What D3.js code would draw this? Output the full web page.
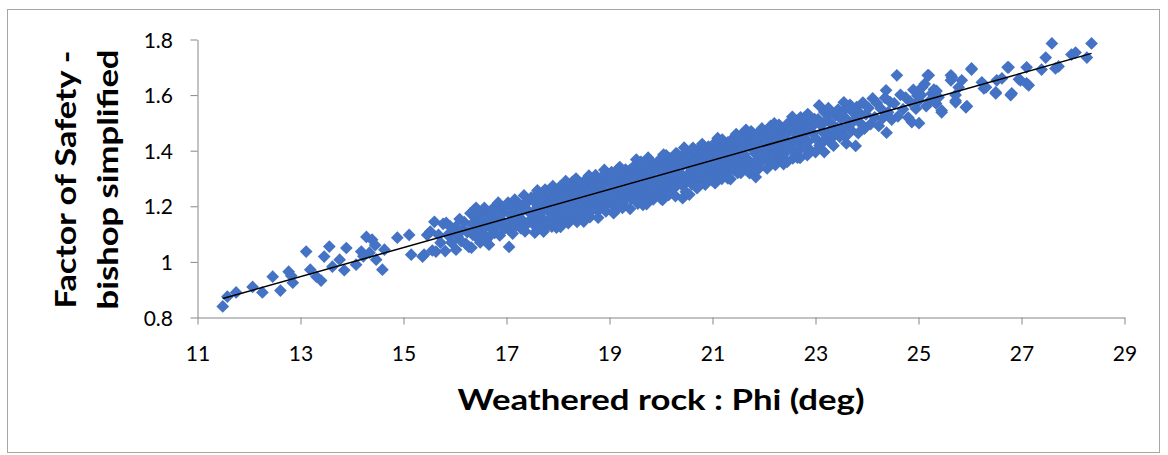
<!DOCTYPE html>
<html>
<head>
<meta charset="utf-8">
<script src="https://cdn.jsdelivr.net/npm/d3@7"></script>
<style>
  html, body { margin: 0; padding: 0; background: #ffffff; }
  svg { display: block; font-family: Lato, "Open Sans", "Liberation Sans", sans-serif; }
</style>
</head>
<body>
<svg id="chart" width="1168" height="455"></svg>
<script>
// Weathered rock friction angle (deg) vs. Bishop simplified factor of safety

// lower tail, 11.5 - 15 deg
const phiLeft = [11.49,11.58,11.75,12.07,12.26,12.46,12.61,12.77,12.82,12.85,13.11,13.19,13.31,13.40,13.46,13.56,13.62,13.76,13.85,13.89,14.08,14.18,14.22,14.28,14.34,14.39,14.45,14.47,14.59,14.63,14.88];
const fosLeft = [0.840,0.875,0.890,0.910,0.890,0.947,0.897,0.965,0.950,0.925,1.037,0.972,0.947,0.933,1.019,1.055,0.983,1.008,0.970,1.050,0.990,1.037,1.020,1.090,1.033,1.080,1.060,1.008,0.972,1.044,1.087];

// 15 - 17 deg, scattered
const phiMid = [15.11,15.15,15.37,15.40,15.46,15.60,15.63,15.83,16.02,16.08,16.27,16.32,16.37,16.41,16.41,16.61,16.66,17.05];
const fosMid = [1.097,1.026,1.019,1.026,1.097,1.144,1.037,1.140,1.044,1.105,1.054,1.051,1.187,1.126,1.194,1.080,1.062,1.054];

// dense core of the cloud, 15.5 - 25 deg
const phiCore = [
  15.52,15.56,15.68,15.72,15.77,15.81,15.86,15.90,15.93,15.97,
  16.01,16.05,16.09,16.12,16.15,16.18,16.21,16.24,16.30,16.33,16.35,16.39,16.43,16.45,16.47,16.49,
  16.52,16.54,16.57,16.59,16.62,16.64,16.67,16.69,16.72,16.74,16.77,16.79,16.82,16.84,16.87,16.89,16.92,16.94,16.96,16.98,
  17.01,17.03,17.06,17.08,17.10,17.12,17.14,17.16,17.18,17.20,17.22,17.24,17.26,17.28,17.30,17.32,17.34,17.36,17.38,17.40,17.42,17.44,17.46,17.48,
  17.51,17.53,17.55,17.57,17.59,17.61,17.63,17.65,17.67,17.69,17.71,17.73,17.75,17.77,17.79,17.81,17.83,17.85,17.87,17.89,17.91,17.93,17.95,17.96,17.98,17.99,
  18.01,18.03,18.04,18.06,18.08,18.10,18.12,18.14,18.15,18.17,18.19,18.21,18.22,18.24,18.26,18.28,18.30,18.31,18.33,18.35,18.37,18.39,18.41,18.43,18.44,18.46,18.48,18.49,
  18.51,18.53,18.55,18.56,18.58,18.60,18.62,18.64,18.65,18.67,18.69,18.71,18.73,18.74,18.76,18.78,18.80,18.82,18.83,18.85,18.87,18.89,18.91,18.92,18.94,18.96,18.98,18.99,
  19.01,19.03,19.04,19.06,19.08,19.10,19.12,19.13,19.15,19.17,19.19,19.21,19.22,19.24,19.26,19.28,19.30,19.31,19.33,19.35,19.37,19.39,19.40,19.42,19.44,19.46,19.48,19.49,
  19.51,19.53,19.54,19.56,19.58,19.60,19.62,19.63,19.65,19.67,19.69,19.71,19.72,19.74,19.76,19.78,19.80,19.81,19.83,19.85,19.87,19.89,19.90,19.92,19.94,19.96,19.98,19.99,
  20.01,20.03,20.04,20.06,20.08,20.10,20.12,20.13,20.15,20.17,20.19,20.21,20.22,20.24,20.26,20.28,20.30,20.31,20.33,20.35,20.37,20.39,20.40,20.42,20.44,20.46,20.48,20.49,
  20.51,20.53,20.54,20.56,20.58,20.60,20.62,20.63,20.65,20.67,20.69,20.71,20.72,20.74,20.76,20.78,20.80,20.81,20.83,20.85,20.87,20.89,20.90,20.92,20.94,20.96,20.98,20.99,
  21.01,21.03,21.04,21.06,21.08,21.10,21.12,21.13,21.15,21.17,21.19,21.21,21.22,21.24,21.26,21.28,21.30,21.31,21.33,21.35,21.37,21.39,21.40,21.42,21.44,21.46,21.48,21.49,
  21.51,21.53,21.55,21.57,21.59,21.61,21.63,21.65,21.67,21.69,21.71,21.73,21.75,21.77,21.79,21.81,21.83,21.85,21.87,21.89,21.91,21.93,21.95,21.96,21.98,21.99,
  22.01,22.03,22.05,22.07,22.09,22.11,22.13,22.15,22.17,22.19,22.21,22.23,22.25,22.27,22.29,22.31,22.33,22.35,22.37,22.39,22.41,22.43,22.45,22.48,
  22.51,22.53,22.55,22.58,22.60,22.62,22.64,22.66,22.68,22.71,22.73,22.75,22.77,22.79,22.82,22.84,22.86,22.88,22.91,22.93,22.95,22.98,
  23.02,23.05,23.08,23.11,23.14,23.17,23.19,23.22,23.25,23.28,23.31,23.33,23.36,23.39,23.42,23.44,23.47,23.49,
  23.52,23.55,23.58,23.61,23.64,23.67,23.70,23.73,23.76,23.80,23.83,23.86,23.89,23.92,23.95,23.98,
  24.03,24.07,24.11,24.15,24.19,24.23,24.27,24.31,24.35,24.41,24.45,24.48,
  24.53,24.60,24.65,24.70,24.75,24.80,24.84,24.90,24.95,24.98
];
const fosCore = [
  1.109,1.041,1.097,1.069,1.137,1.039,1.097,1.129,1.070,1.117,
  1.125,1.092,1.154,1.075,1.117,1.143,1.065,1.107,1.175,1.136,1.097,1.159,1.087,1.128,1.179,1.070,
  1.151,1.102,1.194,1.125,1.176,1.087,1.144,1.170,1.117,1.193,1.104,1.160,1.132,1.213,1.095,1.186,1.147,1.178,1.119,1.200,
  1.137,1.213,1.114,1.170,1.196,1.102,1.153,1.224,1.185,1.132,1.213,1.154,1.175,1.121,1.202,1.148,1.239,1.110,1.191,1.137,1.218,1.179,1.150,1.231,
  1.178,1.134,1.215,1.161,1.242,1.198,1.129,1.175,1.231,1.157,1.213,1.149,1.260,1.196,1.232,1.133,1.179,1.250,1.216,1.162,1.229,1.195,1.151,1.251,1.212,1.178,
  1.239,1.165,1.271,1.197,1.223,1.154,1.255,1.186,1.236,1.167,1.268,1.214,1.150,1.251,1.187,1.288,1.229,1.169,1.270,1.206,1.242,1.188,1.285,1.221,1.166,1.257,1.208,1.269,
  1.191,1.247,1.298,1.218,1.274,1.180,1.256,1.212,1.293,1.239,1.195,1.271,1.312,1.212,1.253,1.184,1.290,1.236,1.272,1.213,1.309,1.255,1.201,1.286,1.232,1.303,1.249,1.215,
  1.281,1.232,1.323,1.204,1.270,1.306,1.247,1.218,1.294,1.335,1.261,1.232,1.317,1.283,1.209,1.250,1.311,1.332,1.273,1.234,1.295,1.251,1.331,1.227,1.313,1.269,1.345,1.251,
  1.298,1.239,1.334,1.270,1.356,1.232,1.318,1.259,1.300,1.346,1.287,1.233,1.333,1.259,1.315,1.276,1.362,1.253,1.324,1.300,1.346,1.277,1.237,1.338,1.294,1.365,1.266,1.322,
  1.284,1.360,1.255,1.326,1.302,1.383,1.274,1.350,1.316,1.372,1.258,1.299,1.344,1.365,1.286,1.332,1.273,1.389,1.320,1.356,1.297,1.378,1.313,1.274,1.350,1.391,1.307,1.373,
  1.295,1.346,1.391,1.322,1.373,1.279,1.410,1.336,1.307,1.368,1.394,1.295,1.350,1.326,1.387,1.413,1.319,1.365,1.296,1.397,1.343,1.384,1.314,1.415,1.356,1.332,1.378,1.294,
  1.396,1.347,1.427,1.318,1.379,1.360,1.416,1.307,1.393,1.339,1.440,1.371,1.331,1.412,1.383,1.319,1.430,1.356,1.397,1.343,1.424,1.370,1.445,1.331,1.412,1.358,1.394,1.320,
  1.433,1.374,1.455,1.346,1.407,1.388,1.429,1.335,1.451,1.367,1.418,1.359,1.470,1.406,1.442,1.348,1.389,1.455,1.431,1.372,1.468,1.404,1.360,1.440,1.386,1.422,
  1.373,1.469,1.430,1.396,1.452,1.363,1.489,1.415,1.446,1.387,1.473,1.409,1.436,1.367,1.493,1.399,1.460,1.431,1.477,1.388,1.454,1.415,1.496,1.428,
  1.475,1.406,1.507,1.438,1.464,1.390,1.496,1.427,1.458,1.520,1.411,1.482,1.443,1.509,1.406,1.472,1.433,1.499,1.400,1.486,1.462,1.514,
  1.441,1.513,1.419,1.491,1.467,1.539,1.440,1.511,1.463,1.535,1.426,1.492,1.454,1.526,1.482,1.548,1.450,1.516,
  1.477,1.544,1.450,1.512,1.488,1.565,1.472,1.538,1.510,1.557,1.463,1.535,1.496,1.573,1.479,1.531,
  1.554,1.496,1.588,1.520,1.572,1.489,1.551,1.518,1.590,1.538,1.575,1.512,
  1.570,1.523,1.601,1.549,1.591,1.519,1.576,1.619,1.551,1.598
];

// points along the lower edge of the cloud
const phiLowEdge = [17.55,17.72,17.88,17.97,18.05,18.20,18.37,18.50,18.62,18.67,18.78,18.93,19.08,19.13,19.25,19.40,19.55,19.65,19.72,19.85,20.00,20.03,20.15,20.28,20.42,20.48,20.55,20.70,20.86,21.05,21.18,21.30,21.35,21.55,21.72,21.84,21.88,22.06,22.20,22.22,22.38,22.45,22.56,22.65,22.70,22.84,23.00,23.17,23.35,23.60,23.78,24.38,24.87];
const fosLowEdge = [1.105,1.109,1.127,1.123,1.126,1.139,1.144,1.145,1.161,1.187,1.159,1.182,1.175,1.187,1.194,1.191,1.210,1.205,1.208,1.225,1.228,1.223,1.241,1.237,1.229,1.252,1.242,1.265,1.278,1.283,1.299,1.300,1.298,1.320,1.319,1.305,1.332,1.336,1.355,1.349,1.352,1.360,1.372,1.375,1.374,1.384,1.395,1.395,1.418,1.426,1.417,1.465,1.503];

// points along the upper edge of the cloud
const phiHighEdge = [17.60,17.90,18.15,18.35,18.60,18.90,19.20,19.52,19.61,19.75,20.05,20.29,20.45,20.64,20.80,21.10,21.46,21.65,21.96,22.20,22.55,22.85,23.07,23.25,23.55,24.37,24.58];
const fosHighEdge = [1.257,1.273,1.291,1.300,1.310,1.331,1.341,1.368,1.360,1.375,1.386,1.390,1.411,1.405,1.424,1.445,1.460,1.475,1.480,1.498,1.522,1.532,1.563,1.553,1.574,1.617,1.671];

// upper tail, 25 - 28.4 deg
const phiRight = [25.01,25.01,25.05,25.07,25.12,25.15,25.18,25.20,25.22,25.26,25.30,25.34,25.35,25.39,25.45,25.45,25.63,25.63,25.65,25.72,25.72,25.72,25.78,25.84,25.92,25.94,26.03,26.03,26.23,26.27,26.31,26.50,26.50,26.52,26.62,26.73,26.75,26.79,26.81,26.95,26.98,27.10,27.10,27.14,27.39,27.47,27.59,27.66,27.72,27.97,28.05,28.27,28.36];
const fosRight = [1.581,1.499,1.600,1.628,1.640,1.560,1.671,1.671,1.580,1.606,1.620,1.570,1.615,1.592,1.545,1.538,1.671,1.653,1.664,1.600,1.574,1.580,1.628,1.653,1.556,1.560,1.696,1.692,1.646,1.624,1.628,1.610,1.606,1.653,1.660,1.700,1.700,1.600,1.606,1.657,1.653,1.642,1.700,1.635,1.692,1.735,1.786,1.696,1.703,1.746,1.753,1.735,1.786];

// linear trend line end points
const trendPhi = [11.49, 28.36];
const trendFos = [0.868, 1.750];

const xTicks = [11, 13, 15, 17, 19, 21, 23, 25, 27, 29];
const yTicks = [0.8, 1, 1.2, 1.4, 1.6, 1.8];
const xTitle = "Weathered rock : Phi (deg)";
const yTitleLines = ["Factor of Safety -", "bishop simplified"];

const phi = [].concat(phiLeft, phiMid, phiCore, phiLowEdge, phiHighEdge, phiRight);
const fos = [].concat(fosLeft, fosMid, fosCore, fosLowEdge, fosHighEdge, fosRight);
const points = d3.range(Math.min(phi.length, fos.length)).map(i => ({ phi: phi[i], fos: fos[i] }));

const svg = d3.select("#chart");

// chart frame
svg.append("rect")
  .attr("x", 7.5).attr("y", 9.5)
  .attr("width", 1152).attr("height", 443)
  .attr("fill", "#ffffff")
  .attr("stroke", "#a6a6a6")
  .attr("stroke-width", 1);

const x = d3.scaleLinear().domain([11, 29]).range([197.5, 1124.5]);
const y = d3.scaleLinear().domain([0.8, 1.8]).range([317.5, 39.5]);

const axisColor = "#868686";

// x axis
const gx = svg.append("g")
  .attr("transform", `translate(0,${y(0.8)})`)
  .call(d3.axisBottom(x).tickValues(xTicks).tickSize(7).tickSizeOuter(0).tickFormat(d3.format("d")));
gx.select(".domain").attr("stroke", axisColor);
gx.selectAll(".tick line").attr("stroke", axisColor);
gx.selectAll(".tick text")
  .attr("y", 43.5).attr("dy", null)
  .attr("fill", "#000000")
  .style("font-size", "21px")
  .style("font-family", "Lato, 'Open Sans', sans-serif");

// y axis
const gy = svg.append("g")
  .attr("transform", `translate(${x(11)},0)`)
  .call(d3.axisLeft(y).tickValues(yTicks).tickSize(7).tickSizeOuter(0).tickFormat(d => String(d)));
gy.select(".domain").attr("stroke", axisColor);
gy.selectAll(".tick line").attr("stroke", axisColor);
gy.selectAll(".tick text")
  .attr("x", -24.5).attr("dy", "0.36em")
  .attr("fill", "#000000")
  .style("font-size", "21px")
  .style("font-family", "Lato, 'Open Sans', sans-serif");

// scatter markers (diamonds)
const diamond = d3.symbol().type(d3.symbolSquare).size(81);
svg.append("g")
  .selectAll("path")
  .data(points)
  .join("path")
  .attr("d", diamond)
  .attr("transform", d => `translate(${x(d.phi)},${y(d.fos)}) rotate(45)`)
  .attr("fill", "#4472C4");

// trend line
svg.append("path")
  .datum(d3.zip(trendPhi, trendFos))
  .attr("d", d3.line().x(d => x(d[0])).y(d => y(d[1])))
  .attr("fill", "none")
  .attr("stroke", "#000000")
  .attr("stroke-width", 1.5);

// axis titles
svg.append("text")
  .attr("x", 661).attr("y", 410)
  .attr("text-anchor", "middle")
  .attr("textLength", 407).attr("lengthAdjust", "spacingAndGlyphs")
  .style("font-size", "28px").style("font-weight", "bold")
  .attr("fill", "#000000")
  .text(xTitle);

const yTitleBase = [76, 118];
const yTitleLen = [258, 260];
yTitleLines.forEach((line, i) => {
  svg.append("text")
    .attr("transform", `translate(${yTitleBase[i]},179.5) rotate(-90)`)
    .attr("text-anchor", "middle")
    .attr("textLength", yTitleLen[i]).attr("lengthAdjust", "spacingAndGlyphs")
    .style("font-size", "29px").style("font-weight", "bold")
    .attr("fill", "#000000")
    .text(line);
});
</script>
</body>
</html>
